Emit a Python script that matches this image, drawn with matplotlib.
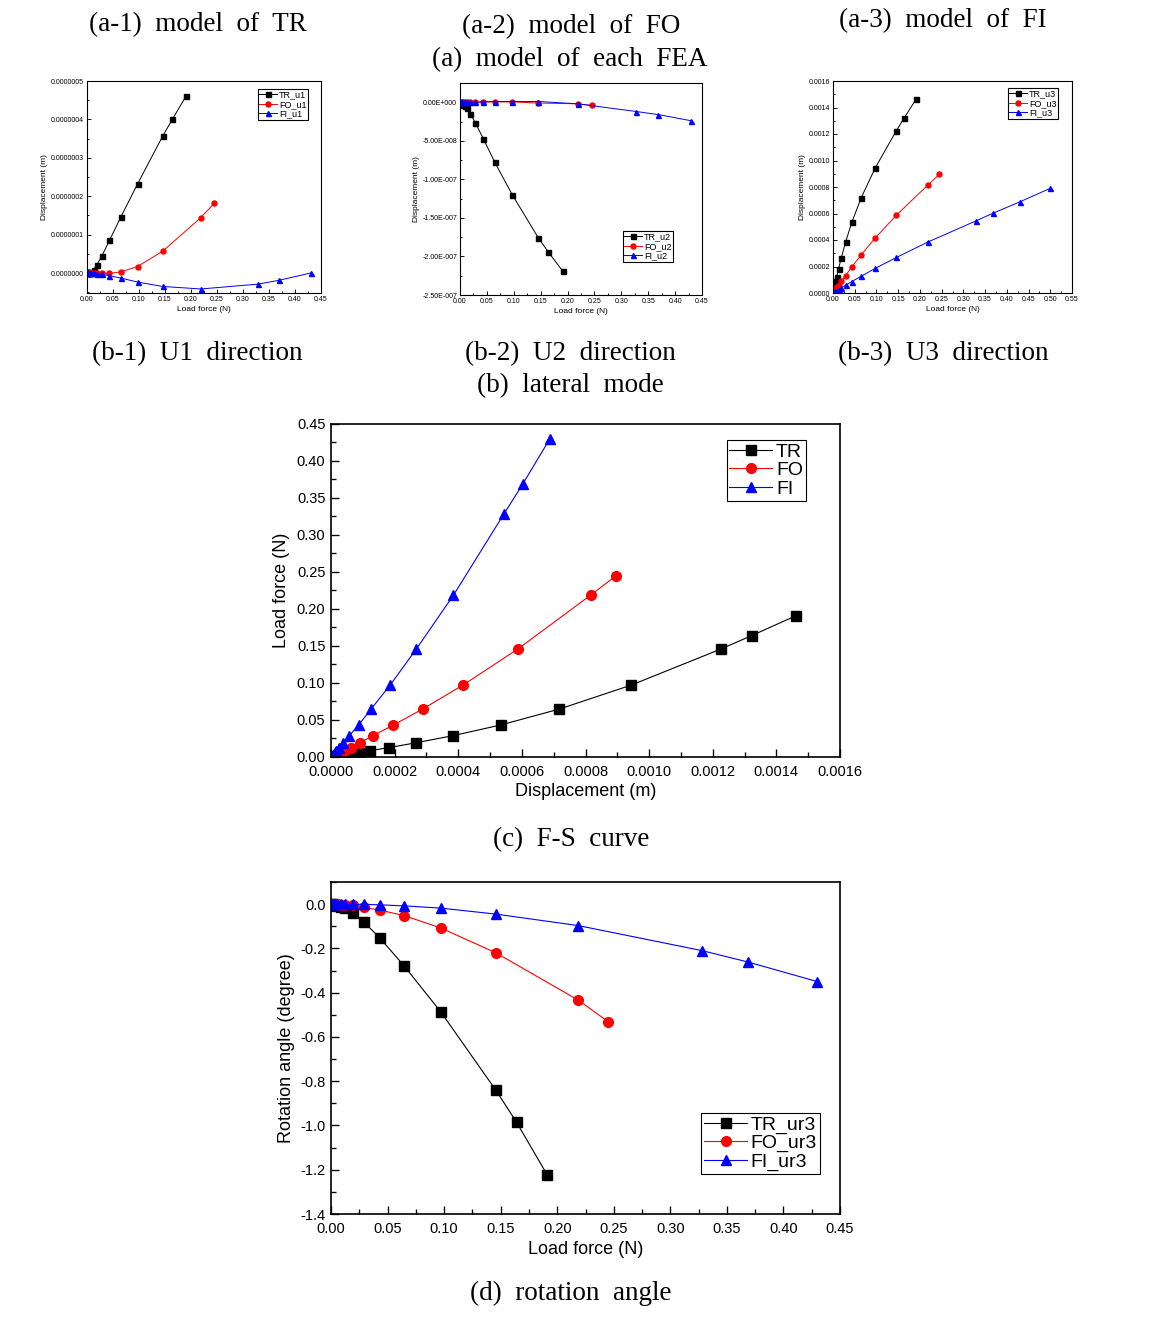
import matplotlib
matplotlib.use("Agg")
import matplotlib.pyplot as plt
from matplotlib.ticker import MultipleLocator, AutoMinorLocator, FuncFormatter

plt.rcParams['font.family'] = ['Liberation Sans', 'DejaVu Sans']
plt.rcParams['axes.unicode_minus'] = False

# ---------------- data ----------------
TR_LOAD = [0.0, 0.0017, 0.0025, 0.0038, 0.0057, 0.0085, 0.0128, 0.0192, 0.0288, 0.0432, 0.0648, 0.0972, 0.1458, 0.164, 0.191]
FO_LOAD = [0.0, 0.0017, 0.0025, 0.0038, 0.0057, 0.0085, 0.0128, 0.0192, 0.0288, 0.0432, 0.0648, 0.0972, 0.1458, 0.2187, 0.245]
FI_LOAD = [0.0, 0.0017, 0.0025, 0.0038, 0.0057, 0.0085, 0.0128, 0.0192, 0.0288, 0.0432, 0.0648, 0.0972, 0.1458, 0.2187, 0.328, 0.369, 0.43]
FI_LOAD_U3 = [0.0, 0.0017, 0.0025, 0.0038, 0.0057, 0.0085, 0.0128, 0.0192, 0.0288, 0.0432, 0.0648, 0.0972, 0.1458, 0.2187, 0.328, 0.369, 0.43, 0.50]

# U1 displacement (m)
TR_U1 = [0.0, 0.0, 0.001e-7, 0.005e-7, 0.01e-7, 0.03e-7, 0.09e-7, 0.22e-7, 0.45e-7, 0.85e-7, 1.45e-7, 2.32e-7, 3.57e-7, 4.0e-7, 4.62e-7]
FO_U1 = [0.0, 0.02e-7, 0.02e-7, 0.02e-7, 0.01e-7, 0.01e-7, 0.0, 0.0, 0.0, -0.01e-7, 0.03e-7, 0.17e-7, 0.57e-7, 1.44e-7, 1.82e-7]
FI_U1 = [0.02e-7, 0.02e-7, 0.02e-7, 0.01e-7, 0.01e-7, 0.0, 0.0, -0.02e-7, -0.035e-7, -0.07e-7, -0.13e-7, -0.235e-7, -0.35e-7, -0.415e-7, -0.29e-7, -0.19e-7, 0.0]

# U2 displacement (m)
TR_U2 = [0.0, -0.005e-7, -0.01e-7, -0.02e-7, -0.03e-7, -0.05e-7, -0.08e-7, -0.15e-7, -0.27e-7, -0.47e-7, -0.78e-7, -1.20e-7, -1.76e-7, -1.94e-7, -2.19e-7]
FO_U2 = [0.0, 0.0, 0.0, 0.0, 0.0, 0.0, 0.0, 0.0, 0.0, 0.003e-7, 0.005e-7, 0.005e-7, -0.01e-7, -0.02e-7, -0.04e-7]
FI_U2 = [0.0, 0.0, 0.0, 0.0, 0.0, 0.0, 0.0, 0.0, 0.002e-7, 0.005e-7, 0.01e-7, 0.01e-7, 0.01e-7, -0.02e-7, -0.12e-7, -0.16e-7, -0.24e-7]

# U3 displacement (m)
TR_U3 = [0.0, 0.00003, 0.00004, 0.000066, 0.000087, 0.000123, 0.000183, 0.000267, 0.000383, 0.000533, 0.000718, 0.000944, 0.001225, 0.001322, 0.001462]
FO_U3 = [0.0, 0.000012, 0.000018, 0.000026, 0.000035, 0.000045, 0.000062, 0.00009, 0.000132, 0.000196, 0.000288, 0.000415, 0.000587, 0.000816, 0.000896]
FI_U3 = [0.0, 0.000003, 0.000005, 0.000008, 0.000012, 0.000017, 0.000026, 0.0000385, 0.0000577, 0.0000866, 0.000126, 0.000186, 0.000268, 0.000385, 0.000543, 0.000603, 0.000688, 0.00079]

# rotation UR3 (degree)
TR_UR3 = [0.0, -0.001, -0.002, -0.004, -0.007, -0.011, -0.018, -0.040, -0.079, -0.153, -0.280, -0.488, -0.841, -0.985, -1.222]
FO_UR3 = [0.0, 0.0, 0.0, -0.001, -0.001, -0.002, -0.003, -0.006, -0.015, -0.027, -0.052, -0.108, -0.220, -0.434, -0.531]
FI_UR3 = [0.0, 0.0, 0.0, 0.0, 0.0, 0.0, 0.0, -0.001, -0.001, -0.003, -0.008, -0.018, -0.045, -0.097, -0.210, -0.262, -0.350]

CAPTIONS_TOP = ["(a-1)  model  of  TR", "(a-2)  model  of  FO", "(a-3)  model  of  FI"]
CAPTION_A = "(a)  model  of  each  FEA"
CAPTIONS_B = ["(b-1)  U1  direction", "(b-2)  U2  direction", "(b-3)  U3  direction"]
CAPTION_B = "(b)  lateral  mode"
CAPTION_C = "(c)  F-S  curve"
CAPTION_D = "(d)  rotation  angle"

# ---------------- layout ----------------
W, H = 1152, 1336
fig = plt.figure(figsize=(W / 100, H / 100), dpi=100)

def ax_px(l, t, r, b):
    return fig.add_axes([l / W, 1 - b / H, (r - l) / W, (b - t) / H])

def px(x, y):
    return (x / W, 1 - y / H)

serif = dict(family=['Liberation Serif', 'DejaVu Serif'], fontsize=19.5, ha='center', va='center')
fig.text(*px(198, 25), CAPTIONS_TOP[0], **serif)
fig.text(*px(571, 27), CAPTIONS_TOP[1], **serif)
fig.text(*px(943, 21), CAPTIONS_TOP[2], **serif)
fig.text(*px(570, 60), CAPTION_A, **serif)
fig.text(*px(197, 354), CAPTIONS_B[0], **serif)
fig.text(*px(570, 354), CAPTIONS_B[1], **serif)
fig.text(*px(943, 354), CAPTIONS_B[2], **serif)
fig.text(*px(570, 386), CAPTION_B, **serif)
fig.text(*px(571, 840), CAPTION_C, **serif)
fig.text(*px(571, 1293), CAPTION_D, **serif)


def style(ax, lw, tl, tfs, xpad=2, ypad=2):
    for s in ax.spines.values():
        s.set_linewidth(lw)
    ax.tick_params(which='both', direction='in', top=False, right=False, width=lw * 0.8,
                   labelsize=tfs)
    ax.tick_params(axis='x', pad=xpad)
    ax.tick_params(axis='y', pad=ypad)
    ax.tick_params(which='major', length=tl)
    ax.tick_params(which='minor', length=tl * 0.6)
    ax.xaxis.set_minor_locator(AutoMinorLocator(2))
    ax.yaxis.set_minor_locator(AutoMinorLocator(2))


def series(ax, x, y, color, marker, ms, lw):
    ax.plot(x, y, color=color, marker=marker, ms=ms, lw=lw, mec=color, mfc=color)


def legend(ax, labels, anchor, fs, hl=2.0):
    leg = ax.legend(labels, loc='upper right', bbox_to_anchor=px(*anchor), bbox_transform=fig.transFigure,
                    fontsize=fs, frameon=True, fancybox=False, framealpha=1, edgecolor='black',
                    borderpad=0.15, labelspacing=0.05, handlelength=hl, handletextpad=0.2,
                    borderaxespad=0)
    leg.get_frame().set_linewidth(0.8)


small_ms = 3.6
small_lw = 0.7
fmt2 = FuncFormatter(lambda v, p: f"{v:.2f}")

# b-1
ax1 = ax_px(87, 81, 321, 293)
series(ax1, TR_LOAD, TR_U1, 'black', 's', small_ms, small_lw)
series(ax1, FO_LOAD, FO_U1, 'red', 'o', small_ms, small_lw)
series(ax1, FI_LOAD, FI_U1, 'blue', '^', small_ms, small_lw)
ax1.set_xlim(0, 0.45)
ax1.set_ylim(-0.52e-7, 5e-7)
ax1.xaxis.set_major_locator(MultipleLocator(0.05))
ax1.yaxis.set_major_locator(MultipleLocator(1e-7))
ax1.xaxis.set_major_formatter(fmt2)
ax1.yaxis.set_major_formatter(FuncFormatter(lambda v, p: f"{v:.7f}"))
style(ax1, 0.8, 3, 5)
ax1.set_xlabel("Load force (N)", fontsize=6, labelpad=2)
ax1.set_ylabel("Displacement (m)", fontsize=6, labelpad=2)
legend(ax1, ["TR_u1", "FO_u1", "FI_u1"], (308, 89), 6.5)

# b-2
def efmt(v, p):
    if abs(v) < 1e-15:
        return "0.00E+000"
    m, e = f"{v:.2E}".split('E')
    return f"{m}E{e[0]}{e[1:].zfill(3)}"

ax2 = ax_px(460, 83, 702, 295)
series(ax2, TR_LOAD, TR_U2, 'black', 's', small_ms, small_lw)
series(ax2, FO_LOAD, FO_U2, 'red', 'o', small_ms, small_lw)
series(ax2, FI_LOAD, FI_U2, 'blue', '^', small_ms, small_lw)
ax2.set_xlim(0, 0.45)
ax2.set_ylim(-2.5e-7, 0.25e-7)
ax2.xaxis.set_major_locator(MultipleLocator(0.05))
ax2.yaxis.set_major_locator(MultipleLocator(0.5e-7))
ax2.xaxis.set_major_formatter(fmt2)
ax2.yaxis.set_major_formatter(FuncFormatter(efmt))
style(ax2, 0.8, 3, 5)
ax2.set_xlabel("Load force (N)", fontsize=6, labelpad=2)
ax2.set_ylabel("Displacement (m)", fontsize=6, labelpad=2)
legend(ax2, ["TR_u2", "FO_u2", "FI_u2"], (673, 231), 6.5)

# b-3
ax3 = ax_px(833, 81, 1072, 293)
series(ax3, TR_LOAD, TR_U3, 'black', 's', small_ms, small_lw)
series(ax3, FO_LOAD, FO_U3, 'red', 'o', small_ms, small_lw)
series(ax3, FI_LOAD_U3, FI_U3, 'blue', '^', small_ms, small_lw)
ax3.set_xlim(0, 0.55)
ax3.set_ylim(0, 0.0016)
ax3.xaxis.set_major_locator(MultipleLocator(0.05))
ax3.yaxis.set_major_locator(MultipleLocator(0.0002))
ax3.xaxis.set_major_formatter(fmt2)
ax3.yaxis.set_major_formatter(FuncFormatter(lambda v, p: f"{v:.4f}"))
style(ax3, 0.8, 3, 5)
ax3.set_xlabel("Load force (N)", fontsize=6, labelpad=2)
ax3.set_ylabel("Displacement (m)", fontsize=6, labelpad=2)
legend(ax3, ["TR_u3", "FO_u3", "FI_u3"], (1058, 88), 6.5)

# c: F-S curve
big_lw = 0.8
axc = ax_px(331, 424, 840, 757)
series(axc, TR_U3, TR_LOAD, 'black', 's', 6.5, big_lw)
series(axc, FO_U3, FO_LOAD, 'red', 'o', 7, big_lw)
series(axc, FI_U3[:len(FI_LOAD)], FI_LOAD, 'blue', '^', 7.5, big_lw)
axc.set_xlim(0, 0.0016)
axc.set_ylim(0, 0.45)
axc.xaxis.set_major_locator(MultipleLocator(0.0002))
axc.yaxis.set_major_locator(MultipleLocator(0.05))
axc.xaxis.set_major_formatter(FuncFormatter(lambda v, p: f"{v:.4f}"))
axc.yaxis.set_major_formatter(fmt2)
style(axc, 1.2, 6, 10.5, xpad=6, ypad=4)
axc.set_xlabel("Displacement (m)", fontsize=13, labelpad=3)
axc.set_ylabel("Load force (N)", fontsize=13, labelpad=5)
legend(axc, ["TR", "FO", "FI"], (806, 440), 14, hl=2.2)

# d: rotation angle
axd = ax_px(331, 882, 840, 1214)
series(axd, TR_LOAD, TR_UR3, 'black', 's', 6.5, big_lw)
series(axd, FO_LOAD, FO_UR3, 'red', 'o', 7, big_lw)
series(axd, FI_LOAD, FI_UR3, 'blue', '^', 7.5, big_lw)
axd.set_xlim(0, 0.45)
axd.set_ylim(-1.4, 0.1)
axd.xaxis.set_major_locator(MultipleLocator(0.05))
axd.yaxis.set_major_locator(MultipleLocator(0.2))
axd.xaxis.set_major_formatter(fmt2)
axd.yaxis.set_major_formatter(FuncFormatter(lambda v, p: f"{v:.1f}"))
style(axd, 1.2, 6, 10.5, xpad=6, ypad=4)
axd.set_xlabel("Load force (N)", fontsize=13, labelpad=3)
axd.set_ylabel("Rotation angle (degree)", fontsize=13, labelpad=4)
legend(axd, ["TR_ur3", "FO_ur3", "FI_ur3"], (820, 1113), 14, hl=2.2)

fig.savefig("out.png", dpi=100)
